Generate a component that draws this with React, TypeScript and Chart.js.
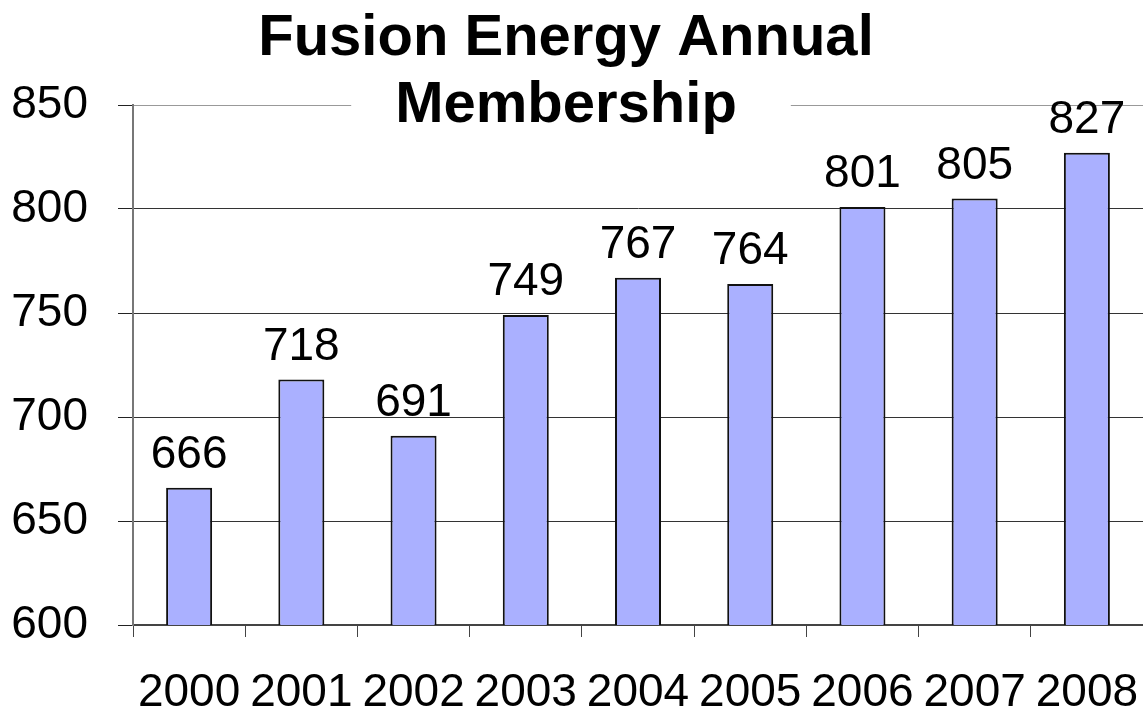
import React, { useEffect, useRef } from "react";
import { Chart, registerables } from "chart.js";

Chart.register(...registerables);

const titleLines = ["Fusion Energy Annual", "Membership"];
const years = ["2000", "2001", "2002", "2003", "2004", "2005", "2006", "2007", "2008"];
const members = [666, 718, 691, 749, 767, 764, 801, 805, 827];
const yMin = 600;
const yMax = 850;
const yStep = 50;

const FONT = '"Liberation Sans", Arial, sans-serif';

const labelPlugin = {
  id: "barValues",
  afterDatasetsDraw(chart: any) {
    const ctx = chart.ctx;
    const meta = chart.getDatasetMeta(0);
    ctx.save();
    ctx.fillStyle = "#000";
    ctx.font = `46px ${FONT}`;
    ctx.textAlign = "center";
    ctx.textBaseline = "alphabetic";
    meta.data.forEach((bar: any, i: number) => {
      ctx.fillText(String(members[i]), bar.x, bar.y - 20);
    });
    ctx.restore();
  },
};

const titlePlugin = {
  id: "overlayTitle",
  afterDraw(chart: any) {
    const ctx = chart.ctx;
    const cx = 566;
    ctx.save();
    ctx.font = `bold 58px ${FONT}`;
    ctx.textAlign = "center";
    ctx.textBaseline = "alphabetic";
    const w2 = ctx.measureText(titleLines[1]).width;
    ctx.fillStyle = "#fff";
    ctx.fillRect(cx - w2 / 2 - 44, 70, w2 + 98, 56);
    ctx.fillStyle = "#000";
    ctx.fillText(titleLines[0], cx, 55);
    ctx.fillText(titleLines[1], cx, 122);
    ctx.restore();
  },
};

export default function App() {
  const ref = useRef<HTMLCanvasElement | null>(null);

  useEffect(() => {
    if (!ref.current) return;
    const chart = new Chart(ref.current, {
      type: "bar",
      data: {
        labels: years,
        datasets: [
          {
            data: members,
            backgroundColor: "#aab0ff",
            borderColor: "#111",
            borderWidth: 2,
            barPercentage: 0.41,
            categoryPercentage: 1,
          },
        ],
      },
      options: {
        responsive: false,
        animation: false,
        devicePixelRatio: 1,
        layout: { padding: { top: 105, left: 0, right: 0, bottom: 0 } },
        plugins: {
          legend: { display: false },
          title: { display: false },
          tooltip: { enabled: false },
        },
        scales: {
          x: {
            offset: true,
            grid: {
              display: true,
              offset: true,
              drawOnChartArea: false,
              drawTicks: true,
              tickLength: 12,
              tickColor: "#444",
            },
            border: { display: true, color: "#444", width: 2 },
            ticks: {
              color: "#000",
              font: { family: FONT, size: 46 },
              padding: 29,
              maxRotation: 0,
              autoSkip: false,
            },
            afterFit(scale: any) {
              scale.height = 88;
              scale.paddingLeft = 0;
              scale.paddingRight = 0;
            },
          },
          y: {
            min: yMin,
            max: yMax,
            ticks: {
              stepSize: yStep,
              color: "#000",
              font: { family: FONT, size: 46 },
              padding: 30,
            },
            grid: {
              color: (c: any) => (c.tick && c.tick.value === yMax ? "#999" : "#333"),
              lineWidth: 1,
              drawTicks: true,
              tickLength: 15,
              tickColor: "#222",
            },
            border: { display: true, color: "#777", width: 2 },
            afterFit(scale: any) {
              scale.width = 133;
            },
          },
        },
      },
      plugins: [labelPlugin, titlePlugin],
    });
    return () => chart.destroy();
  }, []);

  return (
    <div style={{ position: "fixed", left: 0, top: 0, width: 1143, height: 713, background: "#fff" }}>
      <canvas ref={ref} width={1143} height={713} style={{ display: "block" }} />
    </div>
  );
}
